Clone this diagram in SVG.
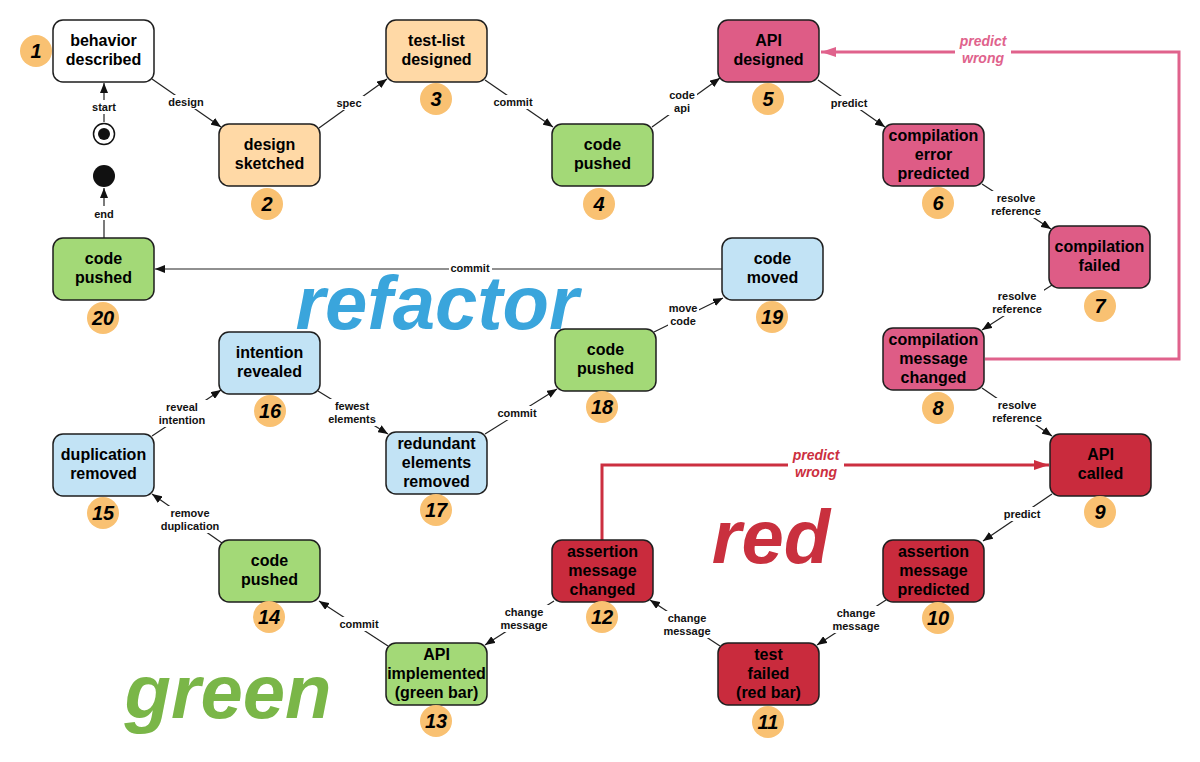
<svg xmlns="http://www.w3.org/2000/svg" width="1200" height="762" viewBox="0 0 1200 762">
<defs>
<style>
.n rect{stroke:#1e1e1e;stroke-width:1.5}
.w{fill:#ffffff}.pe{fill:#FFD9A6}.gr{fill:#A3D977}.pk{fill:#DE5C86}.rd{fill:#C92B3D}.bl{fill:#C2E3F5}
.t{font-family:"Liberation Sans",Arial,sans-serif;font-weight:bold;font-size:16px;text-anchor:middle;fill:#000}
.b{fill:#F9C172}
.bn{font-family:"Liberation Sans",Arial,sans-serif;font-weight:bold;font-style:italic;font-size:20px;text-anchor:middle;fill:#000}
.e{stroke:#222;stroke-width:1.2;fill:none}
.lb{fill:#fff}
.el{font-family:"Liberation Sans",Arial,sans-serif;font-weight:bold;font-size:11px;text-anchor:middle;fill:#111}
.big{font-family:"Liberation Sans",Arial,sans-serif;font-weight:bold;font-style:italic;font-size:76px;text-anchor:middle}
.pw{font-family:"Liberation Sans",Arial,sans-serif;font-weight:bold;font-style:italic;font-size:14px;text-anchor:middle}
</style>
<marker id="ar" viewBox="0 0 10 8" refX="10" refY="4" markerWidth="10" markerHeight="8" markerUnits="userSpaceOnUse" orient="auto"><path d="M0,0 L10,4 L0,8 z" fill="#111"/></marker>
<marker id="arp" viewBox="0 0 15 10" refX="15" refY="5" markerWidth="15" markerHeight="10" markerUnits="userSpaceOnUse" orient="auto"><path d="M0,0 L15,5 L0,10 z" fill="#E0628C"/></marker>
<marker id="arr" viewBox="0 0 15 10" refX="15" refY="5" markerWidth="15" markerHeight="10" markerUnits="userSpaceOnUse" orient="auto"><path d="M0,0 L15,5 L0,10 z" fill="#CC2F40"/></marker>
</defs>
<rect width="1200" height="762" fill="#fff"/>

<g id="phase-labels">
<text class="big" x="437" y="329" fill="#3AA5DC">refactor</text>
<text class="big" x="771" y="563" fill="#C9303E">red</text>
<text class="big" x="228" y="718" fill="#7AB648">green</text>
</g>

<g id="connectors">
<!-- start / end -->
<line class="e" x1="104" y1="122" x2="104" y2="83" marker-end="url(#ar)"/>
<rect class="lb" x="90" y="100" width="28" height="14"/><text class="el" x="104" y="111">start</text>
<line class="e" x1="104" y1="238" x2="104" y2="188" marker-end="url(#ar)"/>
<rect class="lb" x="92" y="206" width="24" height="14"/><text class="el" x="104" y="218">end</text>

<line class="e" x1="152" y1="79" x2="221" y2="127" marker-end="url(#ar)"/>
<rect class="lb" x="167" y="95" width="39" height="14"/><text class="el" x="186" y="106">design</text>

<line class="e" x1="319" y1="128" x2="387" y2="79" marker-end="url(#ar)"/>
<rect class="lb" x="334" y="96" width="30" height="14"/><text class="el" x="349" y="107">spec</text>

<line class="e" x1="485" y1="80" x2="553" y2="127" marker-end="url(#ar)"/>
<rect class="lb" x="492" y="95" width="43" height="14"/><text class="el" x="513" y="106">commit</text>

<line class="e" x1="652" y1="127" x2="720" y2="78" marker-end="url(#ar)"/>
<rect class="lb" x="667" y="88" width="30" height="27"/><text class="el" x="682" y="99">code</text><text class="el" x="682" y="112">api</text>

<line class="e" x1="818" y1="80" x2="885" y2="127" marker-end="url(#ar)"/>
<rect class="lb" x="829" y="96" width="41" height="14"/><text class="el" x="849" y="107">predict</text>

<line class="e" x1="982" y1="184" x2="1051" y2="229" marker-end="url(#ar)"/>
<rect class="lb" x="989" y="191" width="54" height="27"/><text class="el" x="1016" y="202">resolve</text><text class="el" x="1016" y="215">reference</text>

<line class="e" x1="1052" y1="285" x2="982" y2="330" marker-end="url(#ar)"/>
<rect class="lb" x="990" y="289" width="54" height="27"/><text class="el" x="1017" y="300">resolve</text><text class="el" x="1017" y="313">reference</text>

<line class="e" x1="982" y1="388" x2="1052" y2="436" marker-end="url(#ar)"/>
<rect class="lb" x="990" y="398" width="54" height="27"/><text class="el" x="1017" y="409">resolve</text><text class="el" x="1017" y="422">reference</text>

<line class="e" x1="1052" y1="494" x2="983" y2="541" marker-end="url(#ar)"/>
<rect class="lb" x="1002" y="507" width="41" height="14"/><text class="el" x="1022" y="518">predict</text>

<line class="e" x1="886" y1="600" x2="817" y2="645" marker-end="url(#ar)"/>
<rect class="lb" x="831" y="606" width="51" height="27"/><text class="el" x="856" y="617">change</text><text class="el" x="856" y="630">message</text>

<line class="e" x1="720" y1="646" x2="650" y2="600" marker-end="url(#ar)"/>
<rect class="lb" x="662" y="611" width="51" height="27"/><text class="el" x="687" y="622">change</text><text class="el" x="687" y="635">message</text>

<line class="e" x1="554" y1="601" x2="485" y2="645" marker-end="url(#ar)"/>
<rect class="lb" x="499" y="605" width="51" height="27"/><text class="el" x="524" y="616">change</text><text class="el" x="524" y="629">message</text>

<line class="e" x1="388" y1="646" x2="319" y2="601" marker-end="url(#ar)"/>
<rect class="lb" x="338" y="617" width="43" height="14"/><text class="el" x="359" y="628">commit</text>

<line class="e" x1="222" y1="543" x2="152" y2="494" marker-end="url(#ar)"/>
<rect class="lb" x="159" y="506" width="63" height="27"/><text class="el" x="190" y="517">remove</text><text class="el" x="190" y="530">duplication</text>

<line class="e" x1="152" y1="436" x2="221" y2="390" marker-end="url(#ar)"/>
<rect class="lb" x="157" y="400" width="51" height="27"/><text class="el" x="182" y="411">reveal</text><text class="el" x="182" y="424">intention</text>

<line class="e" x1="318" y1="391" x2="388" y2="434" marker-end="url(#ar)"/>
<rect class="lb" x="327" y="399" width="52" height="27"/><text class="el" x="352" y="410">fewest</text><text class="el" x="352" y="423">elements</text>

<line class="e" x1="485" y1="434" x2="557" y2="389" marker-end="url(#ar)"/>
<rect class="lb" x="496" y="406" width="43" height="14"/><text class="el" x="517" y="417">commit</text>

<line class="e" x1="654" y1="332" x2="723" y2="298" marker-end="url(#ar)"/>
<rect class="lb" x="668" y="301" width="31" height="27"/><text class="el" x="683" y="312">move</text><text class="el" x="683" y="325">code</text>

<line class="e" x1="722" y1="269" x2="155" y2="269" marker-end="url(#ar)"/>
<rect class="lb" x="449" y="262" width="43" height="13"/><text class="el" x="470" y="272">commit</text>

<!-- predict wrong loops -->
<path d="M985,359 H1179 V52 H821" fill="none" stroke="#E0628C" stroke-width="3" marker-end="url(#arp)"/>
<rect class="lb" x="955" y="32" width="56" height="34"/>
<text class="pw" x="983" y="46" fill="#E0628C">predict</text><text class="pw" x="983" y="63" fill="#E0628C">wrong</text>

<path d="M602,540 V465 H1049" fill="none" stroke="#CC2F40" stroke-width="3" marker-end="url(#arr)"/>
<rect class="lb" x="788" y="446" width="56" height="34"/>
<text class="pw" x="816" y="460" fill="#CC2F40">predict</text><text class="pw" x="816" y="477" fill="#CC2F40">wrong</text>
</g>

<g id="pseudo-states">
<circle cx="104" cy="134" r="10.5" fill="#fff" stroke="#111" stroke-width="1.5"/>
<circle cx="104" cy="134" r="6" fill="#111"/>
<circle cx="104" cy="176" r="11" fill="#111"/>
</g>

<g id="n1" class="n"><rect class="w" x="53" y="20" width="101" height="62" rx="10"/><text class="t" x="103.5" y="46">behavior</text><text class="t" x="103.5" y="65">described</text><circle class="b" cx="36" cy="51" r="16"/><text class="bn" x="36" y="58">1</text></g>
<g id="n2" class="n"><rect class="pe" x="219" y="124" width="101" height="62" rx="10"/><text class="t" x="269.5" y="150">design</text><text class="t" x="269.5" y="169">sketched</text><circle class="b" cx="267" cy="204" r="16"/><text class="bn" x="267" y="211">2</text></g>
<g id="n3" class="n"><rect class="pe" x="386" y="20" width="101" height="62" rx="10"/><text class="t" x="436.5" y="46">test-list</text><text class="t" x="436.5" y="65">designed</text><circle class="b" cx="436" cy="99" r="16"/><text class="bn" x="436" y="106">3</text></g>
<g id="n4" class="n"><rect class="gr" x="552" y="124" width="101" height="62" rx="10"/><text class="t" x="602.5" y="150">code</text><text class="t" x="602.5" y="169">pushed</text><circle class="b" cx="599" cy="204" r="16"/><text class="bn" x="599" y="211">4</text></g>
<g id="n5" class="n"><rect class="pk" x="718" y="20" width="101" height="62" rx="10"/><text class="t" x="768.5" y="46">API</text><text class="t" x="768.5" y="65">designed</text><circle class="b" cx="768" cy="99" r="16"/><text class="bn" x="768" y="106">5</text></g>
<g id="n6" class="n"><rect class="pk" x="883" y="124" width="101" height="62" rx="10"/><text class="t" x="933.5" y="141">compilation</text><text class="t" x="933.5" y="160">error</text><text class="t" x="933.5" y="179">predicted</text><circle class="b" cx="938" cy="203" r="16"/><text class="bn" x="938" y="210">6</text></g>
<g id="n7" class="n"><rect class="pk" x="1049" y="226" width="101" height="62" rx="10"/><text class="t" x="1099.5" y="252">compilation</text><text class="t" x="1099.5" y="271">failed</text><circle class="b" cx="1100" cy="306" r="16"/><text class="bn" x="1100" y="313">7</text></g>
<g id="n8" class="n"><rect class="pk" x="883" y="328" width="101" height="62" rx="10"/><text class="t" x="933.5" y="345">compilation</text><text class="t" x="933.5" y="364">message</text><text class="t" x="933.5" y="383">changed</text><circle class="b" cx="938" cy="408" r="16"/><text class="bn" x="938" y="415">8</text></g>
<g id="n9" class="n"><rect class="rd" x="1050" y="434" width="101" height="62" rx="10"/><text class="t" x="1100.5" y="460">API</text><text class="t" x="1100.5" y="479">called</text><circle class="b" cx="1100" cy="512" r="16"/><text class="bn" x="1100" y="519">9</text></g>
<g id="n10" class="n"><rect class="rd" x="883" y="540" width="101" height="62" rx="10"/><text class="t" x="933.5" y="557">assertion</text><text class="t" x="933.5" y="576">message</text><text class="t" x="933.5" y="595">predicted</text><circle class="b" cx="938" cy="618" r="16"/><text class="bn" x="938" y="625">10</text></g>
<g id="n11" class="n"><rect class="rd" x="718" y="643" width="101" height="62" rx="10"/><text class="t" x="768.5" y="660">test</text><text class="t" x="768.5" y="679">failed</text><text class="t" x="768.5" y="698">(red bar)</text><circle class="b" cx="768" cy="722" r="16"/><text class="bn" x="768" y="729">11</text></g>
<g id="n12" class="n"><rect class="rd" x="552" y="540" width="101" height="62" rx="10"/><text class="t" x="602.5" y="557">assertion</text><text class="t" x="602.5" y="576">message</text><text class="t" x="602.5" y="595">changed</text><circle class="b" cx="602" cy="617" r="16"/><text class="bn" x="602" y="624">12</text></g>
<g id="n13" class="n"><rect class="gr" x="386" y="643" width="101" height="62" rx="10"/><text class="t" x="436.5" y="660">API</text><text class="t" x="436.5" y="679">implemented</text><text class="t" x="436.5" y="698">(green bar)</text><circle class="b" cx="436" cy="721" r="16"/><text class="bn" x="436" y="728">13</text></g>
<g id="n14" class="n"><rect class="gr" x="219" y="540" width="101" height="62" rx="10"/><text class="t" x="269.5" y="566">code</text><text class="t" x="269.5" y="585">pushed</text><circle class="b" cx="269" cy="617" r="16"/><text class="bn" x="269" y="624">14</text></g>
<g id="n15" class="n"><rect class="bl" x="53" y="434" width="101" height="62" rx="10"/><text class="t" x="103.5" y="460">duplication</text><text class="t" x="103.5" y="479">removed</text><circle class="b" cx="103" cy="513" r="16"/><text class="bn" x="103" y="520">15</text></g>
<g id="n16" class="n"><rect class="bl" x="219" y="332" width="101" height="62" rx="10"/><text class="t" x="269.5" y="358">intention</text><text class="t" x="269.5" y="377">revealed</text><circle class="b" cx="270" cy="411" r="16"/><text class="bn" x="270" y="418">16</text></g>
<g id="n17" class="n"><rect class="bl" x="386" y="432" width="101" height="62" rx="10"/><text class="t" x="436.5" y="449">redundant</text><text class="t" x="436.5" y="468">elements</text><text class="t" x="436.5" y="487">removed</text><circle class="b" cx="436" cy="510" r="16"/><text class="bn" x="436" y="517">17</text></g>
<g id="n18" class="n"><rect class="gr" x="555" y="329" width="101" height="62" rx="10"/><text class="t" x="605.5" y="355">code</text><text class="t" x="605.5" y="374">pushed</text><circle class="b" cx="602" cy="407" r="16"/><text class="bn" x="602" y="414">18</text></g>
<g id="n19" class="n"><rect class="bl" x="722" y="238" width="101" height="62" rx="10"/><text class="t" x="772.5" y="264">code</text><text class="t" x="772.5" y="283">moved</text><circle class="b" cx="772" cy="317" r="16"/><text class="bn" x="772" y="324">19</text></g>
<g id="n20" class="n"><rect class="gr" x="53" y="238" width="101" height="62" rx="10"/><text class="t" x="103.5" y="264">code</text><text class="t" x="103.5" y="283">pushed</text><circle class="b" cx="103" cy="318" r="16"/><text class="bn" x="103" y="325">20</text></g>
</svg>
